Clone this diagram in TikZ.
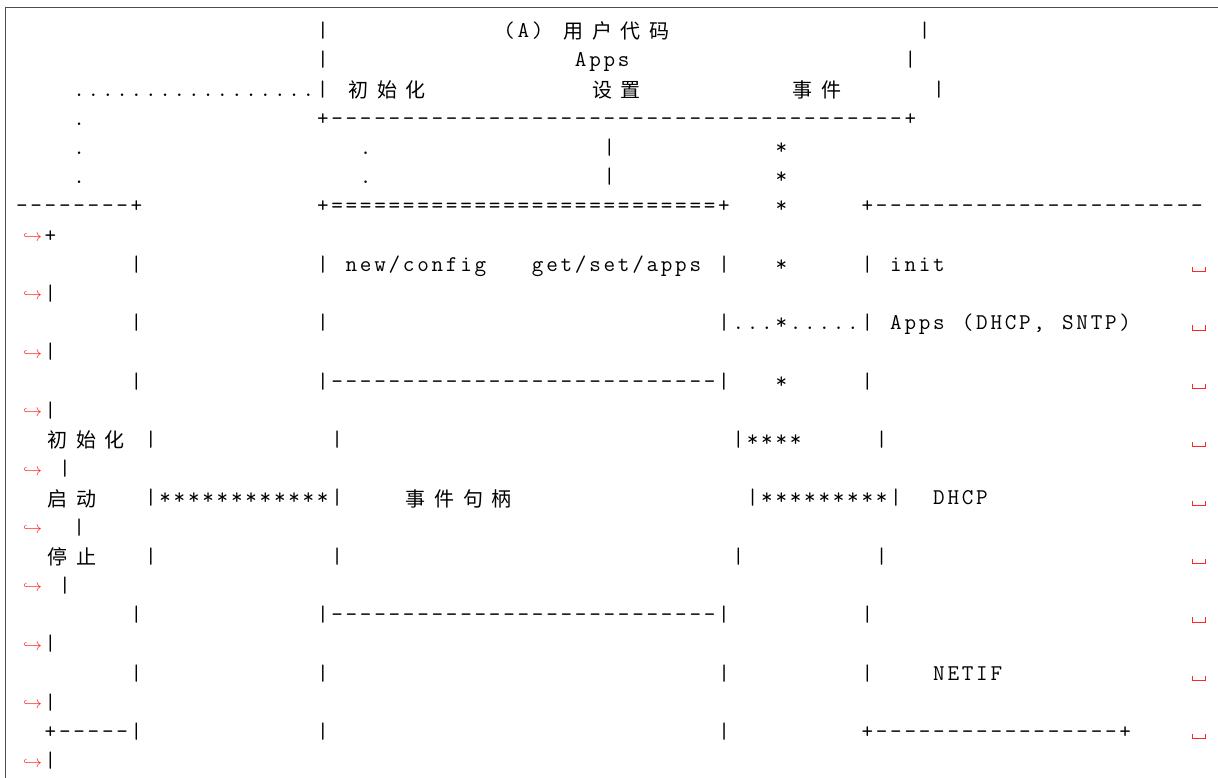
\documentclass[tikz,border=0pt]{standalone}
\usepackage{fontspec}
\newfontfamily\cjkf{Noto Sans CJK SC}
\newlength\cellw \setlength\cellw{14.33pt}
\newlength\cjkw \setlength\cjkw{28.66pt}
\def\gridend{}
\def\gridloop#1{\ifx#1\gridend\else\makebox[\cellw][c]{#1}\expandafter\gridloop\fi}
\def\cjkloop#1{\ifx#1\gridend\else\makebox[\cjkw][c]{#1}\expandafter\cjkloop\fi}
\newcommand\mkseg[4]{\node[asc] (#1) at ({14.5+#2*14.33},{37.7+(#3-1)*29.2}) {\gridloop#4\gridend};}
\newcommand\mkhan[4]{\node[han] (#1) at ({14.5+#2*14.33},{39+(#3-1)*29.2}) {\cjkloop#4\gridend};}
\newcommand\mkhook[2]{\node[hookmark] (#1) at (32.6,{33.2+(#2-1)*29.2}) {$\hookrightarrow$};}
\newcommand\mkvs[2]{\draw[vsp] (1192.5,{33.4+(#2-1)*29.2}) coordinate (#1) |- (1205,{37.9+(#2-1)*29.2}) -- (1205,{33.4+(#2-1)*29.2});}
\begin{document}
\begin{tikzpicture}[x=1pt,y=-1pt,
 asc/.style={anchor=base west,inner sep=0pt,font=\ttfamily\fontsize{22.5}{22.5}\selectfont},
 han/.style={anchor=base west,inner sep=0pt,font=\cjkf\fontsize{20}{20}\selectfont},
 hookmark/.style={inner sep=0pt,text=red!85,font=\fontsize{16.5}{16.5}\selectfont},
 vsp/.style={draw=red!85,line width=0.8pt},
 frame/.style={draw=black!70,line width=1.1pt}]
\useasboundingbox (0,0) rectangle (1218,778);
\draw[frame] (5.5,778) -- (5.5,7.3) -- (1218,7.3);
% row 1
\mkseg{r1a}{21}{1}{|}
\mkseg{r1b}{34}{1}{(A)}
\mkhan{r1c}{38}{1}{用户代码}
\mkseg{r1d}{63}{1}{|}
% row 2
\mkseg{r2a}{21}{2}{|}
\mkseg{r2b}{39}{2}{Apps}
\mkseg{r2c}{62}{2}{|}
% row 3
\mkseg{r3a}{4}{3}{.................|}
\mkhan{r3b}{23}{3}{初始化}
\mkhan{r3c}{40}{3}{设置}
\mkhan{r3d}{54}{3}{事件}
\mkseg{r3e}{64}{3}{|}
% row 4
\mkseg{r4a}{4}{4}{.}
\mkseg{r4b}{21}{4}{+----------------------------------------+}
% row 5
\mkseg{r5a}{4}{5}{.}
\mkseg{r5b}{24}{5}{.}
\mkseg{r5c}{41}{5}{|}
\mkseg{r5d}{53}{5}{*}
% row 6
\mkseg{r6a}{4}{6}{.}
\mkseg{r6b}{24}{6}{.}
\mkseg{r6c}{41}{6}{|}
\mkseg{r6d}{53}{6}{*}
% row 7
\mkseg{r7a}{0}{7}{--------+}
\mkseg{r7b}{21}{7}{+===========================+}
\mkseg{r7c}{53}{7}{*}
\mkseg{r7d}{59}{7}{+-----------------------}
% row 8
\mkhook{h8}{8}
\mkseg{r8a}{2}{8}{+}
% row 9
\mkseg{r9a}{8}{9}{|}
\mkseg{r9b}{21}{9}{|}
\mkseg{r9c}{23}{9}{new/config}
\mkseg{r9d}{36}{9}{get/set/apps}
\mkseg{r9e}{49}{9}{|}
\mkseg{r9f}{53}{9}{*}
\mkseg{r9g}{59}{9}{|}
\mkseg{r9h}{61}{9}{init}
\mkvs{v9}{9}
% row 10
\mkhook{h10}{10}
\mkseg{r10a}{2}{10}{|}
% row 11
\mkseg{r11a}{8}{11}{|}
\mkseg{r11b}{21}{11}{|}
\mkseg{r11c}{49}{11}{|...*.....|}
\mkseg{r11d}{61}{11}{Apps~(DHCP,~SNTP)}
\mkvs{v11}{11}
% row 12
\mkhook{h12}{12}
\mkseg{r12a}{2}{12}{|}
% row 13
\mkseg{r13a}{8}{13}{|}
\mkseg{r13b}{21}{13}{|---------------------------|}
\mkseg{r13c}{53}{13}{*}
\mkseg{r13d}{59}{13}{|}
\mkvs{v13}{13}
% row 14
\mkhook{h14}{14}
\mkseg{r14a}{2}{14}{|}
% row 15
\mkhan{r15a}{2}{15}{初始化}
\mkseg{r15b}{9}{15}{|}
\mkseg{r15c}{22}{15}{|}
\mkseg{r15d}{50}{15}{|****}
\mkseg{r15e}{60}{15}{|}
\mkvs{v15}{15}
% row 16
\mkhook{h16}{16}
\mkseg{r16a}{3}{16}{|}
% row 17
\mkhan{r17a}{2}{17}{启动}
\mkseg{r17b}{9}{17}{|************|}
\mkhan{r17c}{27}{17}{事件句柄}
\mkseg{r17d}{51}{17}{|*********|}
\mkseg{r17e}{64}{17}{DHCP}
\mkvs{v17}{17}
% row 18
\mkhook{h18}{18}
\mkseg{r18a}{4}{18}{|}
% row 19
\mkhan{r19a}{2}{19}{停止}
\mkseg{r19b}{9}{19}{|}
\mkseg{r19c}{22}{19}{|}
\mkseg{r19d}{50}{19}{|}
\mkseg{r19e}{60}{19}{|}
\mkvs{v19}{19}
% row 20
\mkhook{h20}{20}
\mkseg{r20a}{3}{20}{|}
% row 21
\mkseg{r21a}{8}{21}{|}
\mkseg{r21b}{21}{21}{|---------------------------|}
\mkseg{r21c}{59}{21}{|}
\mkvs{v21}{21}
% row 22
\mkhook{h22}{22}
\mkseg{r22a}{2}{22}{|}
% row 23
\mkseg{r23a}{8}{23}{|}
\mkseg{r23b}{21}{23}{|}
\mkseg{r23c}{49}{23}{|}
\mkseg{r23d}{59}{23}{|}
\mkseg{r23e}{64}{23}{NETIF}
\mkvs{v23}{23}
% row 24
\mkhook{h24}{24}
\mkseg{r24a}{2}{24}{|}
% row 25
\mkseg{r25a}{2}{25}{+-----|}
\mkseg{r25b}{21}{25}{|}
\mkseg{r25c}{49}{25}{|}
\mkseg{r25d}{59}{25}{+-----------------+}
\mkvs{v25}{25}
% row 26
\mkhook{h26}{26}
\mkseg{r26a}{2}{26}{|}
\end{tikzpicture}
\end{document}
